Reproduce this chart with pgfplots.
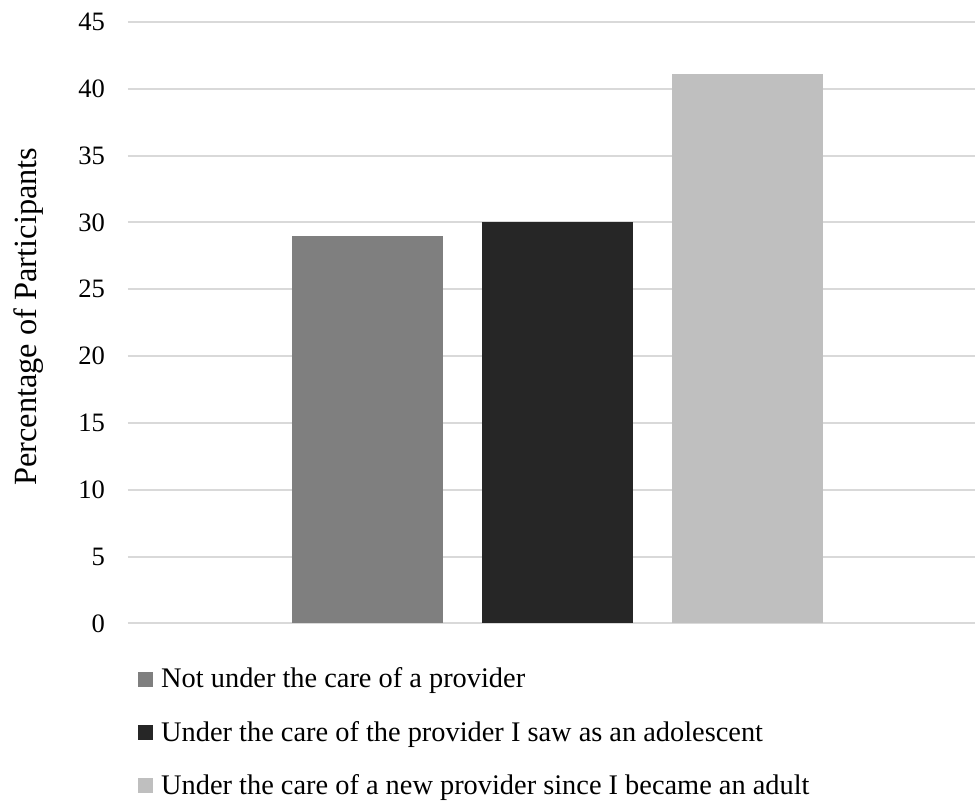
\documentclass[border=0pt]{standalone}
\usepackage{pgfplots}
\pgfplotsset{compat=1.18}
\usepackage{fontspec}
\setmainfont{Liberation Serif}
\definecolor{cA}{HTML}{7F7F7F}
\definecolor{cB}{HTML}{262626}
\definecolor{cC}{HTML}{BFBFBF}
\definecolor{grd}{HTML}{D9D9D9}
\begin{document}
\begin{tikzpicture}
\begin{axis}[
  scale only axis,
  width=424pt, height=301pt,
  xmin=-1.257, xmax=3.194,
  ymin=0, ymax=45,
  ytick distance=5,
  xtick=\empty,
  ybar, bar shift=0pt, bar width=0.793,
  axis line style={draw=none},
  major tick length=0pt,
  ymajorgrids, grid style={grd, line width=1pt},
  /pgf/number format/assume math mode=true,
  yticklabel style={font=\fontsize{13.3}{16}\selectfont, xshift=-8pt},
  ylabel={Percentage of Participants},
  ylabel style={font=\fontsize{16.2}{19}\selectfont, at={(axis description cs:-0.117,0.51)}, anchor=center},
  legend image code/.code={\fill[#1] (0pt,-3.75pt) rectangle (7.5pt,3.75pt);},
  legend style={draw=none, fill=none, at={(axis description cs:0,0)}, anchor=north west,
    xshift=2pt, yshift=-18pt, cells={anchor=west}, row sep=11.2pt,
    font=\fontsize{14.2}{17}\selectfont,
    nodes={inner xsep=4pt}},
  legend cell align=left,
]
\addplot[fill=cA, draw=none] coordinates {(0,29.0)};
\addplot[fill=cB, draw=none] coordinates {(1,30.0)};
\addplot[fill=cC, draw=none] coordinates {(2,41.1)};
\legend{Not under the care of a provider, Under the care of the provider I saw as an adolescent, Under the care of a new provider since I became an adult}
\coordinate (a) at (rel axis cs:0,0);
\coordinate (b) at (rel axis cs:1,1);
\end{axis}
\useasboundingbox ([xshift=-64pt,yshift=-89.5pt]a) rectangle ([yshift=11pt]b);
\end{tikzpicture}
\end{document}
